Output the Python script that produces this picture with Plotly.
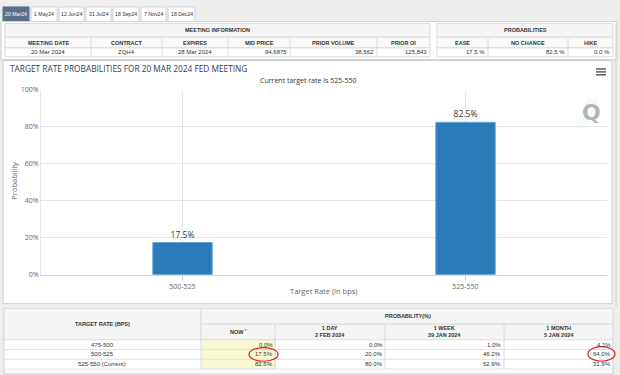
import plotly.graph_objects as go

# ---------------- data ----------------
tabs = ["20 Mar24", "1 May24", "12 Jun24", "31 Jul24", "18 Sep24", "7 Nov24", "18 Dec24"]

mi_headers = ["MEETING DATE", "CONTRACT", "EXPIRES", "MID PRICE", "PRIOR VOLUME", "PRIOR OI"]
mi_values = ["20 Mar 2024", "ZQH4", "28 Mar 2024", "94.6875", "38,562", "125,843"]
prob_headers = ["EASE", "NO CHANGE", "HIKE"]
prob_values = [17.5, 82.5, 0.0]

categories = ["500-525", "525-550"]
probabilities = [17.5, 82.5]
y_ticks = [0, 20, 40, 60, 80, 100]
y_tick_labels = ["0%", "20%", "40%", "60%", "80%", "100%"]

rates = ["475-500", "500-525", "525-550 (Current)"]
periods = ["NOW <sup>*</sup>", "1 DAY<br>2 FEB 2024", "1 WEEK<br>29 JAN 2024", "1 MONTH<br>5 JAN 2024"]
now = [0.0, 17.5, 82.5]
day1 = [0.0, 20.0, 80.0]
week1 = [1.0, 46.2, 52.9]
month1 = [4.1, 64.0, 31.9]

# ---------------- layout helpers ----------------
W, H = 620, 375
FONT_TBL = "Liberation Sans"
FONT_CH = "Open Sans"

shapes = []
annotations = []


def X(x):
    return x / W


def Y(y):
    return 1 - y / H


def rect(x0, y0, x1, y1, fill, line="#d6d6d6", lw=1, layer="below"):
    shapes.append(dict(type="rect", xref="paper", yref="paper",
                       x0=X(x0), x1=X(x1), y0=Y(y1), y1=Y(y0),
                       fillcolor=fill, line=dict(color=line, width=lw), layer=layer))


def line(x0, y0, x1, y1, color="#dddddd", lw=1, layer="below"):
    shapes.append(dict(type="line", xref="paper", yref="paper",
                       x0=X(x0), x1=X(x1), y0=Y(y0), y1=Y(y1),
                       line=dict(color=color, width=lw), layer=layer))


def text(x, y, s, size=6, color="#333333", anchor="center", font=FONT_TBL, bold=False, angle=0):
    if bold:
        s = "<b>" + s + "</b>"
    annotations.append(dict(xref="paper", yref="paper", x=X(x), y=Y(y), text=s,
                            showarrow=False, xanchor=anchor, yanchor="middle",
                            textangle=angle, borderpad=0,
                            font=dict(family=font, size=size, color=color)))


# ---------------- tabs ----------------
tab_edges = [(3, 29), (31, 57), (59, 84), (86, 111), (113, 139), (141, 166), (168, 195)]
for i, (lab, (a, b)) in enumerate(zip(tabs, tab_edges)):
    if i == 0:
        rect(a, 2, b, 17, "#5b6f8d", line="#5b6f8d")
        text((a + b) / 2, 9.5, lab, 5.2, "#ffffff")
    else:
        rect(a, 2, b, 17, "#ffffff", line="#d0d0d0")
        text((a + b) / 2, 9.5, lab, 5.2, "#333333")

# ---------------- top info panel ----------------
rect(1, 17, 617, 56, "#ffffff", line="#d0d0d0")
mi_cols = [5, 91, 162, 228, 290, 377, 430]
pr_cols = [437, 488, 568, 613]
for cols, title, heads in ((mi_cols, "MEETING INFORMATION", mi_headers),
                           (pr_cols, "PROBABILITIES", prob_headers)):
    rect(cols[0], 19, cols[-1], 33, "#f6f6f6", line="#dcdcdc")
    rect(cols[0], 33, cols[-1], 44, "#fafafa", line="#dcdcdc")
    rect(cols[0], 44, cols[-1], 53, "#ffffff", line="#dcdcdc")
    for c in cols[1:-1]:
        line(c, 33, c, 53, "#dcdcdc")
    text((cols[0] + cols[-1]) / 2, 26, title, 5.5, "#333333", bold=True)
    for j, h in enumerate(heads):
        text((cols[j] + cols[j + 1]) / 2, 38.5, h, 5.5, "#333333", bold=True)

for j, v in enumerate(mi_values):
    if j < 3:
        text((mi_cols[j] + mi_cols[j + 1]) / 2, 48.5, v, 6, "#333333")
    else:
        text(mi_cols[j + 1] - 2, 48.5, v, 6, "#333333", anchor="right")
for j, v in enumerate(prob_values):
    text(pr_cols[j + 1] - 2, 48.5, f"{v:.1f} %", 6, "#333333", anchor="right")

# ---------------- chart panel ----------------
rect(3, 57, 612, 306, "#ffffff", line="#cfcfcf")
line(616, 17, 616, 310, "#d0d0d0")
text(9, 65, "TARGET RATE PROBABILITIES FOR 20 MAR 2024 FED MEETING", 8.3, "#2f3b5c",
     anchor="left", font=FONT_CH)
text(308, 77, "Current target rate is 525-550", 7, "#333333", font=FONT_CH)
text(14, 180, "Probability", 7.5, "#666666", font=FONT_CH, angle=-90)
text(324, 293, "Target Rate (in bps)", 7.5, "#666666", font=FONT_CH)
for yy in (65.5, 68.5, 71.5):
    line(596, yy, 606, yy, "#666666", 1.6, layer="above")
# watermark logo
for k in range(4):
    line(576 + k * 3, 126, 589 + k * 3, 96, "#d6eef9", 0.7)
text(591, 110, "Q", 22, "#b5b5b5", font="DejaVu Sans", bold=True)

# ---------------- bottom table ----------------
rect(4, 311, 613, 378, "#ffffff", line="#cfcfcf")
bt_cols = [201, 275, 385, 504, 613]
rect(4, 311, 201, 343, "#f5f5f5", line="#dcdcdc")
rect(201, 311, 613, 327, "#f5f5f5", line="#dcdcdc")
rect(201, 327, 613, 343, "#f5f5f5", line="#dcdcdc")
for c in bt_cols[1:-1]:
    line(c, 327, c, 373, "#dcdcdc")
row_edges = [343, 353, 363, 373]
rect(201, 343, 275, 373, "#fafad2", line="#dcdcdc")
for r in row_edges[1:]:
    line(4, r, 613, r, "#e2e2e2")
text(102, 327, "TARGET RATE (BPS)", 5.5, "#333333", bold=True)
text(408, 319, "PROBABILITY(%)", 5.5, "#333333", bold=True)
for j, p in enumerate(periods):
    text((bt_cols[j] + bt_cols[j + 1]) / 2, 335, p, 5.5, "#333333", bold=True)
series = [now, day1, week1, month1]
for i, rt in enumerate(rates):
    yc = (row_edges[i] + row_edges[i + 1]) / 2
    text(102, yc, rt, 6, "#333333")
    for j, s in enumerate(series):
        text(bt_cols[j + 1] - 1.5, yc, f"{s[i]:.1f}%", 6, "#333333", anchor="right")

# red hand-drawn circles
shapes.append(dict(type="circle", xref="paper", yref="paper", x0=X(249), x1=X(278),
                   y0=Y(365), y1=Y(351), line=dict(color="#e02020", width=1.2), layer="above"))
shapes.append(dict(type="circle", xref="paper", yref="paper", x0=X(588), x1=X(615),
                   y0=Y(365), y1=Y(350), line=dict(color="#e02020", width=1.2), layer="above"))

# ---------------- figure ----------------
fig = go.Figure(go.Bar(
    x=categories, y=probabilities, width=0.21,
    marker=dict(color="#2b7bb9", line=dict(color="#6aa6d6", width=1)),
    texttemplate="%{y:.1f}%", textposition="outside", cliponaxis=False,
    textfont=dict(family=FONT_CH, size=8.5, color="#333333"),
    hoverinfo="x+y",
))

fig.update_layout(
    width=W, height=H, margin=dict(l=0, r=0, t=0, b=0),
    paper_bgcolor="#eeeeee", plot_bgcolor="rgba(0,0,0,0)",
    showlegend=False, shapes=shapes, annotations=annotations,
    xaxis=dict(domain=[X(41), X(607)], type="category", range=[-0.5, 1.5],
               showgrid=True, gridcolor="#e6e6e6", showline=True, linecolor="#ccd6eb",
               ticks="outside", ticklen=5, tickcolor="#ccd6eb",
               tickfont=dict(family=FONT_CH, size=7, color="#666666"), fixedrange=True),
    yaxis=dict(domain=[Y(276.5), Y(87)], range=[0, 100], tickmode="array",
               tickvals=y_ticks, ticktext=y_tick_labels,
               showgrid=True, gridcolor="#e6e6e6", zeroline=False,
               showline=True, linecolor="#e6e6e6",
               tickfont=dict(family=FONT_CH, size=7, color="#666666"), fixedrange=True),
)

fig.write_html("out.html", config={"displayModeBar": False},
               post_script="document.body.style.margin='0';document.body.style.overflow='hidden';")
